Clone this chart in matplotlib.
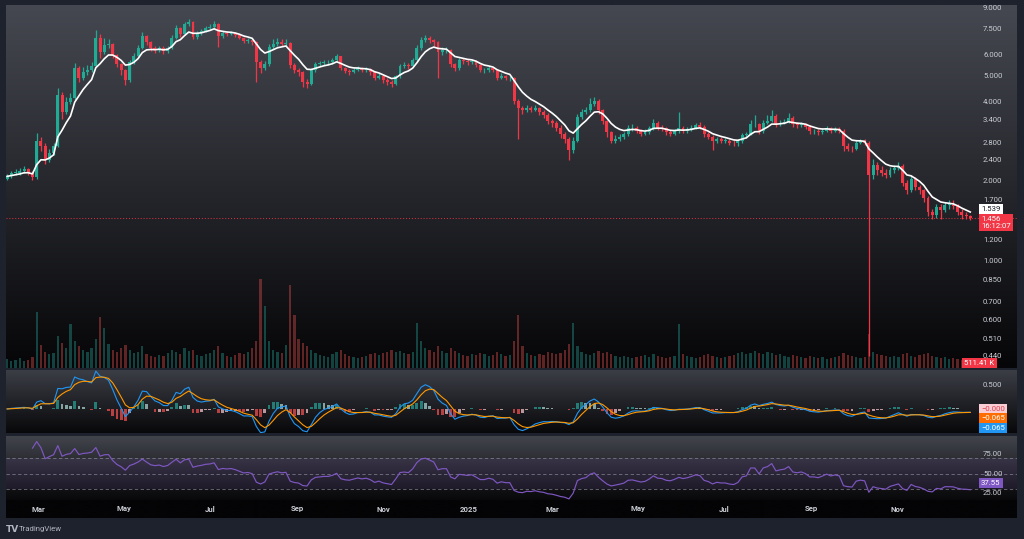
import numpy as np
import pandas as pd
import matplotlib
matplotlib.use("Agg")
import matplotlib.pyplot as plt
import matplotlib.dates as mdates
from matplotlib.transforms import blended_transform_factory

# ---------------- data (3-day candles) ----------------
start_date = "2024-02-08"
candle_freq = "3D"
first_open = 2.05

close = [
    2.09, 2.15, 2.16, 2.18, 2.22, 2.16, 2.07, 2.85, 2.71, 2.40,
    2.57, 2.73, 4.22, 3.64, 3.97, 4.11, 5.33, 4.89, 5.15, 5.24,
    5.43, 6.93, 6.13, 6.52, 6.57, 5.97, 5.52, 5.24, 4.80, 5.62,
    5.92, 6.35, 7.05, 6.69, 6.35, 6.24, 6.35, 6.18, 6.35, 6.93,
    7.56, 7.17, 7.83, 7.97, 6.99, 7.23, 7.36, 7.56, 7.62, 7.83,
    7.05, 7.23, 7.17, 7.23, 7.11, 6.93, 6.75, 6.81, 6.69, 5.62,
    5.33, 5.52, 6.40, 6.57, 6.69, 6.57, 6.63, 5.47, 5.24, 5.15,
    4.72, 4.64, 5.24, 5.52, 5.57, 5.62, 5.62, 5.72, 5.92, 5.33,
    5.20, 5.15, 5.24, 5.33, 5.24, 5.29, 5.15, 4.89, 4.97, 4.80,
    4.72, 4.64, 4.97, 5.43, 5.47, 5.43, 5.72, 6.35, 6.81, 6.93,
    6.81, 6.69, 6.13, 6.24, 6.24, 5.52, 5.33, 5.72, 5.67, 5.62,
    5.67, 5.47, 5.24, 5.24, 5.33, 5.24, 4.89, 4.97, 4.89, 4.89,
    4.03, 3.77, 3.70, 3.77, 3.73, 3.77, 3.64, 3.57, 3.39, 3.33,
    3.19, 3.01, 2.90, 2.62, 2.85, 3.51, 3.64, 3.70, 3.93, 4.03,
    3.70, 3.39, 3.06, 2.85, 2.90, 2.95, 3.01, 3.17, 3.19, 3.11,
    3.03, 3.06, 3.17, 3.33, 3.19, 3.17, 3.06, 3.03, 3.09, 3.17,
    3.11, 3.14, 3.19, 3.25, 3.22, 3.01, 2.95, 2.83, 2.88, 2.85,
    2.85, 2.80, 2.78, 2.83, 2.98, 3.01, 3.28, 3.28, 3.09, 3.33,
    3.39, 3.54, 3.28, 3.33, 3.36, 3.48, 3.28, 3.25, 3.28, 3.22,
    3.09, 3.09, 3.06, 3.11, 3.17, 3.11, 3.14, 3.11, 2.71, 2.66,
    2.64, 2.80, 2.83, 2.80, 2.11, 2.30, 2.20, 2.16, 2.11, 2.20,
    2.24, 2.28, 1.98, 1.85, 2.05, 1.91, 1.85, 1.73, 1.54, 1.49,
    1.60, 1.56, 1.63, 1.63, 1.62, 1.54, 1.49, 1.48, 1.456,
]

high = [
    2.14, 2.19, 2.22, 2.24, 2.28, 2.25, 2.18, 3.05, 2.95, 2.78,
    2.66, 2.80, 4.50, 4.35, 4.15, 4.30, 5.60, 5.45, 5.40, 5.50,
    5.65, 7.43, 7.20, 6.95, 6.90, 6.65, 6.05, 5.60, 5.30, 5.75,
    6.10, 6.55, 7.30, 7.15, 6.75, 6.50, 6.50, 6.45, 6.50, 7.15,
    7.75, 7.65, 8.00, 8.20, 8.05, 7.40, 7.50, 7.70, 7.80, 8.05,
    7.90, 7.40, 7.35, 7.35, 7.30, 7.15, 7.00, 6.95, 6.90, 6.75,
    5.75, 5.70, 6.60, 6.85, 6.95, 6.85, 6.85, 6.70, 5.60, 5.35,
    5.20, 4.85, 5.35, 5.65, 5.70, 5.75, 5.75, 5.85, 6.05, 5.95,
    5.40, 5.30, 5.35, 5.45, 5.40, 5.40, 5.35, 5.20, 5.10, 5.05,
    4.90, 4.80, 5.05, 5.55, 5.65, 5.60, 5.85, 6.55, 7.00, 7.10,
    7.05, 6.90, 6.75, 6.40, 6.40, 6.30, 5.60, 5.85, 5.85, 5.80,
    5.80, 5.75, 5.55, 5.35, 5.45, 5.40, 5.30, 5.10, 5.05, 5.00,
    4.95, 4.10, 3.85, 3.88, 3.85, 3.88, 3.82, 3.70, 3.62, 3.45,
    3.38, 3.25, 3.08, 2.95, 2.95, 3.60, 3.75, 3.82, 4.11, 4.15,
    4.08, 3.75, 3.42, 3.10, 2.98, 3.02, 3.08, 3.25, 3.28, 3.24,
    3.15, 3.14, 3.24, 3.45, 3.38, 3.26, 3.20, 3.12, 3.15, 3.64,
    3.24, 3.20, 3.26, 3.32, 3.35, 3.26, 3.06, 2.99, 2.95, 2.93,
    2.92, 2.90, 2.86, 2.90, 3.05, 3.08, 3.40, 3.55, 3.32, 3.42,
    3.55, 3.70, 3.58, 3.42, 3.45, 3.62, 3.52, 3.35, 3.36, 3.33,
    3.26, 3.16, 3.14, 3.18, 3.24, 3.22, 3.20, 3.20, 3.15, 2.78,
    2.72, 2.86, 2.90, 2.88, 2.84, 2.42, 2.36, 2.28, 2.22, 2.26,
    2.30, 2.36, 2.32, 2.02, 2.10, 2.08, 1.94, 1.88, 1.76, 1.58,
    1.65, 1.64, 1.68, 1.70, 1.70, 1.65, 1.57, 1.53, 1.50,
]

low = [
    2.03, 2.06, 2.11, 2.12, 2.15, 2.12, 2.03, 2.05, 2.60, 2.33,
    2.36, 2.52, 2.70, 3.45, 3.58, 3.90, 4.05, 4.75, 4.80, 5.05,
    5.15, 5.40, 5.85, 6.05, 6.35, 5.85, 5.40, 5.05, 4.60, 4.75,
    5.55, 5.85, 6.30, 6.55, 6.20, 6.10, 6.15, 6.05, 6.10, 6.30,
    6.85, 7.00, 7.10, 7.70, 6.85, 6.90, 7.15, 7.30, 7.45, 7.55,
    6.40, 6.95, 7.05, 7.10, 7.00, 6.85, 6.65, 6.65, 6.55, 4.72,
    5.10, 5.25, 5.45, 6.30, 6.45, 6.45, 6.50, 5.35, 5.10, 5.00,
    4.55, 4.50, 4.60, 5.15, 5.45, 5.50, 5.50, 5.55, 5.65, 5.25,
    5.10, 5.05, 5.10, 5.20, 5.15, 5.18, 5.05, 4.80, 4.85, 4.70,
    4.62, 4.55, 4.60, 4.92, 5.35, 5.30, 5.38, 5.65, 6.25, 6.70,
    6.65, 6.50, 4.89, 6.00, 6.10, 5.40, 5.20, 5.25, 5.55, 5.50,
    5.55, 5.38, 5.15, 5.12, 5.18, 5.15, 4.80, 4.85, 4.80, 4.78,
    3.90, 2.90, 3.60, 3.65, 3.65, 3.68, 3.55, 3.48, 3.30, 3.22,
    3.10, 2.92, 2.78, 2.40, 2.55, 2.82, 3.45, 3.58, 3.65, 3.85,
    3.60, 3.30, 2.95, 2.78, 2.80, 2.85, 2.90, 2.97, 3.10, 3.05,
    2.97, 2.98, 3.02, 3.12, 3.12, 3.10, 3.00, 2.97, 2.98, 3.05,
    3.05, 3.05, 3.10, 3.15, 3.15, 2.95, 2.88, 2.62, 2.78, 2.80,
    2.79, 2.74, 2.72, 2.73, 2.80, 2.92, 2.98, 3.20, 3.02, 3.05,
    3.28, 3.35, 3.22, 3.24, 3.28, 3.32, 3.22, 3.18, 3.20, 3.15,
    3.02, 3.02, 3.00, 3.02, 3.07, 3.05, 3.06, 3.04, 2.60, 2.60,
    2.58, 2.62, 2.76, 2.74, 0.44, 2.05, 2.12, 2.10, 2.06, 2.08,
    2.16, 2.20, 1.92, 1.80, 1.82, 1.86, 1.80, 1.68, 1.48, 1.45,
    1.46, 1.44, 1.53, 1.58, 1.57, 1.50, 1.45, 1.44, 1.43,
]

volume = [  # millions
    1.0, 0.8, 0.9, 1.1, 0.8, 0.9, 1.2, 6.2, 2.5, 1.8,
    1.5, 1.6, 3.5, 2.8, 2.2, 4.8, 3.0, 2.4, 2.0, 1.8,
    2.2, 3.2, 5.6, 4.4, 2.6, 2.0, 1.8, 2.2, 2.5, 2.0,
    1.6, 1.8, 2.4, 1.5, 1.3, 1.2, 1.4, 1.3, 1.6, 2.0,
    1.8, 1.5, 2.2, 1.9, 2.0, 1.4, 1.3, 1.5, 1.7, 2.0,
    2.4, 1.6, 1.3, 1.2, 1.4, 1.6, 1.5, 1.8, 2.2, 3.0,
    9.8, 6.8, 3.0, 2.0, 1.8, 1.6, 2.5, 9.2, 5.8, 3.2,
    2.8, 2.4, 2.0, 1.6, 1.4, 1.3, 1.2, 1.5, 1.8, 2.0,
    1.5, 1.3, 1.2, 1.1, 1.2, 1.3, 1.5, 1.7, 1.4, 1.6,
    1.8, 2.0, 1.8, 1.9, 1.6, 1.5, 1.8, 5.0, 3.0, 2.2,
    2.0, 1.8, 2.4, 1.9, 1.7, 2.2, 1.9, 1.6, 1.4, 1.3,
    1.5, 1.4, 1.6, 1.5, 1.3, 1.4, 1.8, 1.5, 1.3, 1.4,
    3.0, 5.8, 2.4, 1.6, 1.4, 1.3, 1.5, 1.4, 1.8, 1.6,
    1.5, 1.7, 2.0, 2.6, 5.0, 2.4, 1.8, 1.5, 1.4, 1.6,
    1.9, 1.7, 1.8, 1.5, 1.3, 1.2, 1.3, 1.2, 1.1, 1.2,
    1.3, 1.4, 1.2, 1.5, 1.3, 1.2, 1.1, 1.2, 1.3, 4.8,
    1.5, 1.3, 1.2, 1.1, 1.2, 1.4, 1.5, 1.3, 1.2, 1.1,
    1.2, 1.3, 1.4, 1.6, 1.8, 1.5, 1.7, 1.9, 1.6, 1.5,
    1.8, 1.6, 1.4, 1.5, 1.3, 1.2, 1.4, 1.3, 1.2, 1.1,
    1.3, 1.2, 1.1, 1.2, 1.0, 1.1, 1.2, 1.3, 1.6, 1.4,
    1.3, 1.2, 1.1, 1.2, 3.8, 1.8, 1.5, 1.4, 1.3, 1.2,
    1.3, 1.2, 1.5, 1.6, 1.3, 1.2, 1.4, 1.5, 1.6, 1.3,
    1.2, 1.1, 1.2, 1.0, 1.1, 1.0, 0.9, 0.8, 0.7,
]

price_ticks = [9.0, 7.5, 6.0, 5.0, 4.0, 3.4, 2.8, 2.4, 2.0, 1.7, 1.2, 1.0, 0.85, 0.7, 0.6, 0.51, 0.44]
price_tick_labels = ["9.000", "7.500", "6.000", "5.000", "4.000", "3.400", "2.800", "2.400",
                     "2.000", "1.700", "1.200", "1.000", "0.850", "0.700", "0.600", "0.510", "0.440"]
month_ticks = ["2024-03-01", "2024-05-01", "2024-07-01", "2024-09-01", "2024-11-01", "2025-01-01",
               "2025-03-01", "2025-05-01", "2025-07-01", "2025-09-01", "2025-11-01"]
month_labels = ["Mar", "May", "Jul", "Sep", "Nov", "2025", "Mar", "May", "Jul", "Sep", "Nov"]
macd_ticks = [0.5]
macd_tick_labels = ["0.500"]
rsi_ticks = [75, 50, 25]
rsi_tick_labels = ["75.00", "50.00", "25.00"]
rsi_levels = [70, 50, 30]

# ---------------- derived series ----------------
c = pd.Series(close)
o = pd.Series([first_open] + close[:-1])
h = pd.Series(high)
l = pd.Series(low)
dates = pd.date_range(start_date, periods=len(close), freq=candle_freq)
x = mdates.date2num(dates)
up = (c >= o).values

ma = c.ewm(span=7, adjust=False).mean()
ema_f = c.ewm(span=4, adjust=False).mean()
ema_s = c.ewm(span=9, adjust=False).mean()
macd = ema_f - ema_s
signal = macd.ewm(span=4, adjust=False).mean()
hist = macd - signal
d = c.diff()
rsi_n = 15
gain = d.clip(lower=0).ewm(alpha=1 / rsi_n, adjust=False).mean()
loss = (-d.clip(upper=0)).ewm(alpha=1 / rsi_n, adjust=False).mean()
rsi = 100 - 100 / (1 + gain / loss)
rsi.iloc[:6] = np.nan

# ---------------- figure ----------------
W, H = 1024, 539
FRAME = "#1e222d"
fig = plt.figure(figsize=(W / 100, H / 100), dpi=100, facecolor=FRAME)


def rect(x0, y0, x1, y1):
    return [x0 / W, 1 - y1 / H, (x1 - x0) / W, (y1 - y0) / H]


def gradient_bg(r, top, bottom):
    bg = fig.add_axes(r, zorder=0)
    t = np.linspace(0, 1, 256)[:, None, None]
    top = np.array(top)[None, None, :] / 255
    bottom = np.array(bottom)[None, None, :] / 255
    img = top * (1 - t) + bottom * t
    bg.imshow(img, aspect="auto", extent=[0, 1, 0, 1], origin="upper", interpolation="bilinear")
    bg.set_axis_off()
    return bg


def clean(ax):
    ax.patch.set_alpha(0)
    for s in ax.spines.values():
        s.set_visible(False)
    ax.set_xticks([])
    ax.set_yticks([])
    ax.set_yticks([], minor=True)
    ax.tick_params(which="both", left=False, right=False, bottom=False, top=False,
                   labelleft=False, labelbottom=False)


jan1 = mdates.date2num(pd.Timestamp("2025-01-01"))
xlim = (jan1 - 328.8, jan1 + 389.2)

main_r = rect(6, 5, 1017, 368)
macd_r = rect(6, 370, 1017, 433)
rsi_r = rect(6, 436, 1017, 500)
time_r = rect(6, 500, 1017, 518)

gradient_bg(main_r, (70, 72, 81), (6, 6, 8))
gradient_bg(macd_r, (60, 62, 70), (8, 8, 10))
gradient_bg(rsi_r, (66, 68, 76), (8, 8, 10))
gradient_bg(time_r, (4, 4, 6), (4, 4, 6))

LBL = "#c9ccd3"
FS = 5.6
fig_x_label = 983 / W

# volume
vax = fig.add_axes(main_r, zorder=1)
vcol = np.where(up, "#26a69a", "#ef5350")
vax.bar(x, volume, width=1.6, color=vcol, alpha=0.38, linewidth=0)
vax.set_xlim(*xlim)
vax.set_ylim(0, 40)
clean(vax)

# candles
ax = fig.add_axes(main_r, zorder=2)
ax.set_yscale("log")
ccol = np.where(up, "#22ab94", "#f23645")
ax.vlines(x, l, h, colors=ccol, lw=0.9)
body_lo = np.minimum(o, c)
body_h = np.maximum(np.abs(c - o), c * 0.006)
ax.bar(x, body_h, bottom=body_lo, width=2.1, color=ccol, linewidth=0)
ax.plot(x, ma, color="white", lw=1.2)
ax.axhline(close[-1], color="#f23645", lw=0.7, ls=(0, (1, 2)), alpha=0.9)
ax.set_xlim(*xlim)
ax.set_ylim(0.3966, 9.237)
clean(ax)
tr = blended_transform_factory(fig.transFigure, ax.transData)
for p, s in zip(price_ticks, price_tick_labels):
    ax.text(fig_x_label, p, s, transform=tr, color=LBL, fontsize=FS, ha="left", va="center",
            family="Roboto", clip_on=False)

# MACD pane
mx = fig.add_axes(macd_r, zorder=2)
hc = []
for i, v in enumerate(hist):
    prev = hist.iloc[i - 1] if i > 0 else 0
    if v >= 0:
        hc.append("#26a69a" if v >= prev else "#b2dfdb")
    else:
        hc.append("#ff5252" if v < prev else "#ffcdd2")
mx.bar(x, hist, width=2.0, color=hc, alpha=0.7, linewidth=0)
mx.plot(x, macd, color="#2196f3", lw=0.8)
mx.plot(x, signal, color="#ff9800", lw=0.8)
mx.set_xlim(*xlim)
mx.set_ylim(-0.5, 0.81)
clean(mx)
trm = blended_transform_factory(fig.transFigure, mx.transData)
for p, s in zip(macd_ticks, macd_tick_labels):
    mx.text(fig_x_label, p, s, transform=trm, color=LBL, fontsize=FS, ha="left", va="center",
            family="Roboto", clip_on=False)

# RSI pane
rx = fig.add_axes(rsi_r, zorder=2)
rx.axhspan(rsi_levels[2], rsi_levels[0], color="#7e57c2", alpha=0.12, lw=0)
for lv in rsi_levels:
    rx.axhline(lv, color="#9598a1", lw=0.6, ls=(0, (4, 3)), alpha=0.7)
rx.plot(x, rsi, color="#7e57c2", lw=0.85)
rx.set_xlim(*xlim)
rx.set_ylim(15.8, 98.4)
clean(rx)
trr = blended_transform_factory(fig.transFigure, rx.transData)
for p, s in zip(rsi_ticks, rsi_tick_labels):
    rx.text(fig_x_label, p, s, transform=trr, color=LBL, fontsize=FS, ha="left", va="center",
            family="Roboto", clip_on=False)

# time axis
tx = fig.add_axes(time_r, zorder=2)
tx.set_xlim(*xlim)
tx.set_ylim(0, 1)
clean(tx)
for d_, s in zip(month_ticks, month_labels):
    tx.text(mdates.date2num(pd.Timestamp(d_)), 0.5, s, color=LBL, fontsize=FS, ha="center",
            va="center", family="Roboto", fontweight="bold")

# right-side value boxes
def box(xp, yp, s, fc, tc, fs=FS):
    fig.text(xp / W, 1 - yp / H, s, color=tc, fontsize=fs, ha="left", va="center", family="Roboto",
             linespacing=1.25, zorder=10,
             bbox=dict(boxstyle="square,pad=0.3", fc=fc, ec="none"))

box(981, 209, "1.539", "white", "#131722")
box(981, 222.5, "1.456\n16:12:07", "#f23645", "white")
box(964, 363, "511.41 K", "#f23645", "white")
box(981, 409, "\u22120.000", "#f8cdd3", "#e04050")
box(981, 418.5, "\u22120.065", "#ff6d00", "white")
box(981, 428, "\u22120.065", "#2196f3", "white")
box(981, 483, "37.55", "#7e57c2", "white")

# logo
fig.text(6 / W, 1 - 529 / H, "TV", color="#b2b5be", fontsize=6.5, fontweight="bold",
         ha="left", va="center", family="DejaVu Sans")
fig.text(19 / W, 1 - 529 / H, "TradingView", color="#b2b5be", fontsize=5.6, ha="left",
         va="center", family="Roboto")

fig.savefig("out.png", dpi=100, facecolor=FRAME)
